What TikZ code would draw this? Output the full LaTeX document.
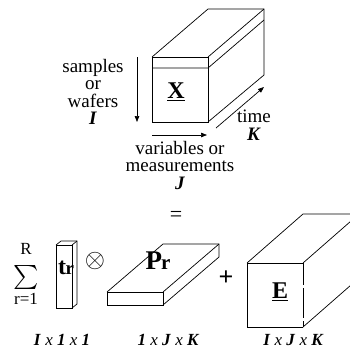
\documentclass[tikz,border=0pt]{standalone}
\usepackage{fontspec}
\setmainfont{Liberation Serif}
\usetikzlibrary{arrows.meta}
\tikzset{
  edge/.style={draw=black,line width=0.7pt},
  arr/.style={-{Triangle[length=6pt,width=4.5pt]},draw=black,line width=0.7pt},
  txt/.style={inner sep=0pt,align=center,font=\fontsize{19}{17.5}\selectfont},
  dimtxt/.style={inner sep=0pt,font=\fontsize{17}{17}\selectfont\bfseries\itshape},
  big/.style={inner sep=0pt,font=\fontsize{24}{24}\selectfont\bfseries}
}
\newcommand{\ulbf}[1]{\underline{\textbf{#1}}}
\newcommand{\dimx}{\textnormal{\itshape\ x\ }}

\begin{document}
\begin{tikzpicture}[x=1pt,y=-1pt]
  \useasboundingbox (0,0) rectangle (350,349);
  \clip (0,0) rectangle (350,349);
  % data cube X
  \draw[edge] (152,57) rectangle (208,122);
  \draw[edge] (152,57) -- ++(56,-48) -- ++(56,0) -- ++(0,66) -- (208,122);
  \draw[edge] (208,57) -- ++(56,-48);
  \draw[edge] (152,68) -- (208,68) -- ++(56,-48);
  \node[big] (xlab) at (176,92) {\ulbf{X}};
  % axis arrows
  \coordinate (iS) at (137,57);  \coordinate (iE) at (137,122);
  \coordinate (jS) at (152,135); \coordinate (jE) at (207,135);
  \coordinate (kS) at (216,128); \coordinate (kE) at (264,87);
  \draw[arr] (iS) -- (iE);
  \draw[arr] (jS) -- (jE);
  \draw[arr] (kS) -- (kE);
  \node[txt] (samples) at (93,92) {samples\\or\\wafers\\\textbf{\textit{I}}};
  \node[txt] (time) at (254,125) {time\\\textbf{\textit{K}}};
  \node[txt] (vars) at (180,165) {variables or\\measurements\\\textbf{\textit{J}}};
  \node[big,font=\fontsize{22}{22}\selectfont] (eq) at (176,216) {=};
  % sum over components
  \node[inner sep=0pt,font=\fontsize{17}{17}\selectfont] (rtop) at (26,249) {R};
  \node[inner sep=0pt,scale=2.4,text height=7pt,text depth=2pt] (sum) at (26,277) {$\textstyle\sum$};
  \node[inner sep=0pt,font=\fontsize{17}{17}\selectfont] (rbot) at (26,299) {r=1};
  % score vector t_r
  \draw[edge] (56,245) rectangle (72,308);
  \draw[edge] (56,245) -- ++(5,-4) -- ++(16,0) -- ++(0,63) -- (72,308);
  \draw[edge] (72,245) -- ++(5,-4);
  \node[inner sep=0pt,font=\fontsize{24}{24}\selectfont\bfseries] (tlab) at (66,268) {t\kern-0.5pt{\fontsize{19}{19}\selectfont r}};
  \node[inner sep=0pt,scale=2.6] (otimes) at (95,261) {$\otimes$};
  % loading slab P_r
  \draw[edge] (107,292) rectangle (163,305);
  \draw[edge] (107,292) -- ++(56,-48) -- ++(56,0) -- ++(0,13) -- (163,305);
  \draw[edge] (163,292) -- ++(56,-48);
  \node[big,font=\fontsize{27}{27}\selectfont\bfseries] (plab) at (158,261) {P\kern-1pt{\fontsize{21}{21}\selectfont r}};
  \node[big,font=\fontsize{26}{26}\selectfont\bfseries] (plus) at (226,278) {+};
  % residual cube E
  \draw[edge] (247,263) -- (247,327) -- (303,327);
  \draw[edge] (247,263) -- (303,263);
  \draw[edge,dash pattern=on 22pt off 3pt on 30pt off 3pt] (303,263) -- (303,327);
  \draw[edge] (247,263) -- ++(56,-49) -- (360,214);
  \draw[edge] (303,263) -- ++(56,-49);
  \draw[edge] (303,327) -- ++(56,-49);
  \node[big,font=\fontsize{24}{24}\selectfont\bfseries] (elab) at (280,292) {\ulbf{E}};
  % dimensions
  \node[dimtxt] (dimt) at (62,340) {I\dimx 1\dimx 1};
  \node[dimtxt] (dimp) at (168,340) {1\dimx J\dimx K};
  \node[dimtxt] (dime) at (293,340) {I\dimx J\dimx K};
\end{tikzpicture}
\end{document}
